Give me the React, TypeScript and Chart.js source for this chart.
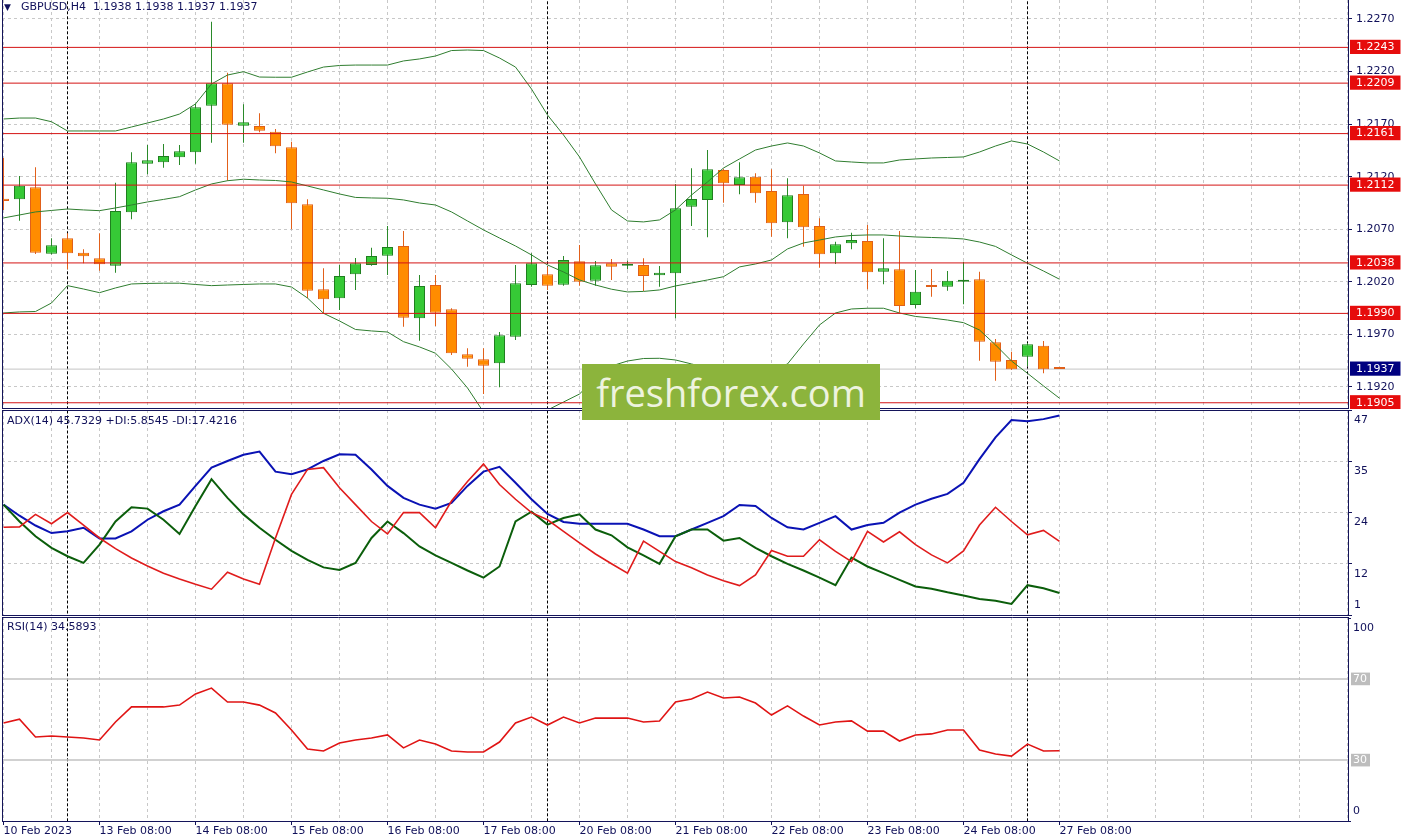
import React, { useEffect, useRef } from 'react';
import { Chart, registerables } from 'chart.js';

Chart.register(...registerables);

const FONT = 'DejaVu Sans';
const TEXT = '#10105a';
const FRAME = '#14145a';
const GRID = '#c8c8c8';

// ---------------- data ----------------
const xTickLabels = [
  '10 Feb 2023', '13 Feb 08:00', '14 Feb 08:00', '15 Feb 08:00', '16 Feb 08:00', '17 Feb 08:00',
  '20 Feb 08:00', '21 Feb 08:00', '22 Feb 08:00', '23 Feb 08:00', '24 Feb 08:00', '27 Feb 08:00',
];

const opens = [
  1.20990, 1.20985, 1.21099, 1.20468, 1.20614, 1.20477, 1.20424, 1.20354, 1.20862, 1.21324,
  1.21337, 1.21385, 1.21432, 1.21875, 1.22088, 1.21685, 1.21682, 1.21628, 1.21480, 1.20938,
  1.20129, 1.20044, 1.20272, 1.20360, 1.20449, 1.20541, 1.19853, 1.20170, 1.19939, 1.19511,
  1.19463, 1.19425, 1.19678, 1.20170, 1.20272, 1.20173, 1.20396, 1.20211, 1.20376, 1.20354,
  1.20360, 1.20262, 1.20281, 1.20915, 1.20979, 1.21264, 1.21121, 1.21200, 1.21064, 1.20766,
  1.21036, 1.20731, 1.20472, 1.20567, 1.20589, 1.20297, 1.20319, 1.19980, 1.20163, 1.20154,
  1.20201, 1.20224, 1.19625, 1.19457, 1.19488, 1.19593, 1.19380,
];
const highs = [
  1.21378, 1.21207, 1.21290, 1.20614, 1.20662, 1.20510, 1.20662, 1.21143, 1.21432, 1.21502,
  1.21511, 1.21502, 1.21892, 1.22674, 1.22189, 1.21889, 1.21803, 1.21654, 1.21533, 1.20985,
  1.20329, 1.20360, 1.20427, 1.20525, 1.20731, 1.20684, 1.20265, 1.20265, 1.19948, 1.19568,
  1.19568, 1.19723, 1.20360, 1.20472, 1.20344, 1.20446, 1.20551, 1.20398, 1.20417, 1.20401,
  1.20424, 1.20351, 1.21131, 1.21280, 1.21454, 1.21273, 1.21337, 1.21232, 1.21270, 1.21185,
  1.21115, 1.20804, 1.20582, 1.20667, 1.20741, 1.20614, 1.20684, 1.20313, 1.20322, 1.20303,
  1.20392, 1.20297, 1.19657, 1.19536, 1.19618, 1.19638, 1.19380,
];
const lows = [
  1.20883, 1.20782, 1.20465, 1.20460, 1.20319, 1.20376, 1.20306, 1.20287, 1.20795, 1.21223,
  1.21286, 1.21311, 1.21324, 1.21523, 1.21162, 1.21523, 1.21622, 1.21423, 1.20700, 1.20044,
  1.19901, 1.19932, 1.20123, 1.20354, 1.20265, 1.19774, 1.19640, 1.19780, 1.19504, 1.19393,
  1.19133, 1.19197, 1.19647, 1.20154, 1.20123, 1.20163, 1.20163, 1.20163, 1.20218, 1.20319,
  1.20113, 1.20154, 1.19853, 1.20731, 1.20624, 1.20953, 1.21033, 1.20953, 1.20629, 1.20614,
  1.20534, 1.20335, 1.20370, 1.20510, 1.20129, 1.20177, 1.19907, 1.19948, 1.20059, 1.20116,
  1.19987, 1.19450, 1.19260, 1.19362, 1.19400, 1.19330, 1.19370,
];
const closes = [
  1.20970, 1.21115, 1.20477, 1.20548, 1.20472, 1.20443, 1.20367, 1.20874, 1.21337, 1.21356,
  1.21397, 1.21442, 1.21860, 1.22088, 1.21695, 1.21718, 1.21638, 1.21489, 1.20947, 1.20116,
  1.20034, 1.20256, 1.20376, 1.20446, 1.20532, 1.19859, 1.20161, 1.19907, 1.19520, 1.19469,
  1.19403, 1.19692, 1.20186, 1.20376, 1.20163, 1.20408, 1.20201, 1.20357, 1.20344, 1.20370,
  1.20256, 1.20287, 1.20900, 1.20988, 1.21270, 1.21137, 1.21194, 1.21042, 1.20757, 1.21023,
  1.20719, 1.20462, 1.20557, 1.20598, 1.20291, 1.20329, 1.19970, 1.20106, 1.20151, 1.20211,
  1.20215, 1.19631, 1.19441, 1.19368, 1.19606, 1.19368, 1.19370,
];

const bbUpper = [
  1.21749, 1.21758, 1.21758, 1.21723, 1.21635, 1.21635, 1.21635, 1.21635, 1.21673, 1.21711,
  1.21749, 1.21796, 1.21892, 1.22082, 1.22167, 1.22199, 1.22148, 1.22146, 1.22146, 1.22196,
  1.22243, 1.22258, 1.22262, 1.22262, 1.22262, 1.22301, 1.22320, 1.22348, 1.22400, 1.22405,
  1.22400, 1.22329, 1.22243, 1.22034, 1.21787, 1.21597, 1.21388, 1.21131, 1.20884, 1.20779,
  1.20770, 1.20789, 1.20884, 1.21026, 1.21150, 1.21283, 1.21369, 1.21454, 1.21492, 1.21521,
  1.21492, 1.21426, 1.21350, 1.21340, 1.21331, 1.21331, 1.21359, 1.21369, 1.21378, 1.21383,
  1.21388, 1.21435, 1.21492, 1.21540, 1.21511, 1.21435, 1.21350,
];
const bbMiddle = [
  1.20808, 1.20836, 1.20865, 1.20879, 1.20893, 1.20884, 1.20877, 1.20903, 1.20931, 1.20960,
  1.20984, 1.21010, 1.21074, 1.21131, 1.21162, 1.21176, 1.21169, 1.21164, 1.21150, 1.21112,
  1.21074, 1.21036, 1.21003, 1.20998, 1.20995, 1.20979, 1.20950, 1.20931, 1.20865, 1.20779,
  1.20694, 1.20617, 1.20541, 1.20456, 1.20361, 1.20294, 1.20218, 1.20170, 1.20130, 1.20104,
  1.20109, 1.20123, 1.20161, 1.20189, 1.20218, 1.20249, 1.20342, 1.20370, 1.20408, 1.20513,
  1.20570, 1.20598, 1.20627, 1.20641, 1.20646, 1.20646, 1.20636, 1.20627, 1.20622, 1.20617,
  1.20608, 1.20579, 1.20537, 1.20456, 1.20377, 1.20303, 1.20225,
];
const bbLower = [
  1.19904, 1.19914, 1.19918, 1.19999, 1.20164, 1.20132, 1.20097, 1.20142, 1.20180, 1.20185,
  1.20187, 1.20187, 1.20175, 1.20164, 1.20170, 1.20175, 1.20180, 1.20180, 1.20151, 1.20046,
  1.19901, 1.19828, 1.19747, 1.19733, 1.19723, 1.19631, 1.19581, 1.19521, 1.19371, 1.19191,
  1.18962, 1.18886, 1.18848, 1.18905, 1.18981, 1.19057, 1.19133, 1.19285, 1.19400, 1.19447,
  1.19471, 1.19473, 1.19457, 1.19419, 1.19381, 1.19352, 1.19333, 1.19343, 1.19362, 1.19419,
  1.19609, 1.19790, 1.19904, 1.19942, 1.19949, 1.19949, 1.19904, 1.19871, 1.19856, 1.19837,
  1.19812, 1.19742, 1.19600, 1.19447, 1.19330, 1.19210, 1.19093,
];

const levels = [1.2243, 1.2209, 1.2161, 1.2112, 1.2038, 1.1990, 1.1905];
const lastPrice = 1.1937;
const priceTicks = [1.2270, 1.2220, 1.2170, 1.2120, 1.2070, 1.2020, 1.1970, 1.1920];

const adx = [
  25.7, 23.2, 21.0, 19.3, 19.7, 20.5, 18.1, 18.1, 19.7, 22.3,
  24.2, 25.7, 29.9, 34.0, 35.5, 36.9, 37.6, 33.1, 32.5, 33.6,
  35.5, 37.0, 36.9, 33.6, 29.9, 27.2, 25.7, 24.8, 26.1, 29.9,
  33.1, 34.2, 30.6, 26.9, 23.6, 21.8, 21.4, 21.4, 21.4, 21.4,
  20.1, 18.6, 18.6, 20.1, 21.6, 23.1, 25.6, 25.4, 22.7, 20.6,
  20.1, 21.6, 23.1, 20.1, 21.1, 21.6, 23.9, 25.7, 27.0, 28.1,
  30.6, 35.9, 40.8, 44.7, 44.4, 44.9, 45.73,
];
const plusDI = [
  25.7, 21.9, 18.6, 16.0, 14.1, 12.6, 16.7, 21.9, 25.1, 24.8,
  22.3, 19.1, 25.4, 31.4, 27.2, 23.5, 20.5, 17.8, 15.3, 13.3,
  11.6, 11.0, 12.6, 18.2, 21.9, 19.3, 16.3, 14.3, 12.6, 10.9,
  9.3, 11.8, 21.9, 24.1, 21.2, 22.7, 23.5, 20.1, 18.8, 16.1,
  14.3, 12.4, 18.6, 20.1, 20.1, 17.6, 18.2, 16.0, 14.1, 12.4,
  10.9, 9.3, 7.6, 13.8, 11.8, 10.3, 8.8, 7.3, 6.8, 6.0,
  5.3, 4.5, 4.1, 3.4, 7.6, 6.9, 5.85,
];
const minusDI = [
  20.6, 20.7, 23.5, 21.4, 23.9, 21.1, 18.2, 15.8, 13.7, 11.9,
  10.3, 9.0, 7.8, 6.7, 10.5, 9.0, 7.8, 18.2, 28.0, 33.6,
  34.0, 29.5, 25.7, 21.9, 19.1, 23.9, 23.9, 20.5, 26.5, 30.9,
  34.8, 30.2, 26.9, 23.9, 22.3, 19.7, 17.1, 14.6, 12.4, 10.3,
  17.5, 15.2, 12.9, 11.5, 9.9, 8.6, 7.5, 9.9, 15.4, 14.1,
  14.1, 17.8, 15.2, 12.9, 19.7, 17.3, 19.6, 16.7, 14.4, 12.6,
  15.3, 21.1, 25.1, 21.9, 18.9, 19.9, 17.42,
];
const adxTickValues = [46.95, 35.4375, 23.925, 12.4125, 0.9];
const adxTickLabels = ['47', '35', '24', '12', '1'];

const rsi = [
  48.3, 50.2, 41.4, 41.9, 41.4, 40.9, 39.9, 48.8, 56.2, 56.2,
  56.2, 57.1, 62.6, 65.5, 58.6, 58.6, 57.1, 53.2, 44.8, 35.5,
  34.5, 38.4, 39.9, 40.9, 42.4, 36.0, 39.9, 37.9, 34.5, 34.0,
  34.0, 38.9, 48.3, 51.2, 47.3, 51.2, 48.3, 50.7, 50.7, 50.7,
  48.8, 49.3, 58.6, 60.1, 63.5, 60.6, 61.1, 58.1, 52.2, 56.7,
  51.7, 47.3, 48.8, 49.3, 44.3, 44.3, 39.4, 42.4, 42.9, 44.8,
  44.8, 35.0, 33.0, 32.0, 37.9, 34.5, 34.59,
];
const rsiLevels = [70, 30];
const rsiTickValues = [100, 70, 30, 0];
const rsiTickLabels = ['100', '70', '30', '0'];

const separatorBars = [4, 34, 64];

// ---------------- layout constants ----------------
const X_MIN = -0.09375;
const X_MAX = 84.03125;
const PRICE_MIN = 1.190002;
const PRICE_MAX = 1.228807;

const gridBars: number[] = [];
for (let b = 0; b <= 84; b += 3) gridBars.push(b);

const HIDDEN = 'rgba(0,0,0,0)';

function xScale(withLabels: boolean): any {
  return {
    type: 'linear',
    min: X_MIN,
    max: X_MAX,
    bounds: 'data',
    offset: false,
    grid: {
      color: GRID,
      lineWidth: 1,
      offset: false,
      drawTicks: withLabels,
      tickLength: 4,
      tickWidth: 1,
      tickColor: (c: any) =>
        c.tick && c.tick.value % 6 === 0 && c.tick.value / 6 < xTickLabels.length ? FRAME : HIDDEN,
    },
    border: { display: false, dash: [3, 3] },
    ticks: {
      display: withLabels,
      autoSkip: false,
      maxRotation: 0,
      minRotation: 0,
      align: 'start',
      padding: 0,
      color: TEXT,
      font: { family: FONT, size: 11 },
      callback: (v: number) => (v % 6 === 0 && v / 6 < xTickLabels.length ? xTickLabels[v / 6] : ''),
    },
    afterBuildTicks: (s: any) => {
      s.ticks = gridBars.map((v) => ({ value: v }));
    },
    afterFit: (s: any) => {
      s.height = withLabels ? 19 : 0;
      s.paddingLeft = 0;
      s.paddingRight = 0;
    },
  };
}

function framePlugin(drawTop: boolean) {
  return {
    id: 'panelFrame',
    afterDraw(chart: any) {
      const { ctx, chartArea } = chart;
      const { left, right, top, bottom } = chartArea;
      ctx.save();
      ctx.strokeStyle = FRAME;
      ctx.lineWidth = 1;
      ctx.setLineDash([]);
      ctx.beginPath();
      ctx.moveTo(left + 0.5, top);
      ctx.lineTo(left + 0.5, bottom + 1);
      ctx.moveTo(left, bottom + 0.5);
      ctx.lineTo(right + 1, bottom + 0.5);
      if (drawTop) {
        ctx.moveTo(left, top + 0.5);
        ctx.lineTo(right + 1, top + 0.5);
      }
      ctx.stroke();
      ctx.restore();
    },
  };
}

function separatorDatasets(lo: number, hi: number, order: number) {
  return separatorBars.map((b) => ({
    type: 'line',
    data: [{ x: b, y: lo }, { x: b, y: hi }],
    borderColor: '#000000',
    borderWidth: 1,
    borderDash: [3, 2],
    pointRadius: 0,
    order,
  }));
}

function hLine(value: number, color: string, width: number, order: number) {
  return {
    type: 'line',
    data: [{ x: X_MIN - 2, y: value }, { x: X_MAX + 2, y: value }],
    borderColor: color,
    borderWidth: width,
    pointRadius: 0,
    order,
  };
}

function series(values: number[]) {
  return values.map((y, i) => ({ x: i, y }));
}

const baseOptions = {
  animation: false,
  responsive: false,
  maintainAspectRatio: false,
  events: [],
  plugins: { legend: { display: false }, tooltip: { enabled: false } },
};

function mainConfig(): any {
  const idx = opens.map((_, i) => i);
  const bull = idx.map((i) => closes[i] >= opens[i]);
  const BB = '#2f7d2f';
  return {
    type: 'line',
    data: {
      datasets: [
        ...levels.map((v) => hLine(v, '#d41414', 1, 1)),
        { type: 'line', data: series(bbUpper), borderColor: BB, borderWidth: 1, pointRadius: 0, order: 2 },
        { type: 'line', data: series(bbMiddle), borderColor: BB, borderWidth: 1, pointRadius: 0, order: 2 },
        { type: 'line', data: series(bbLower), borderColor: BB, borderWidth: 1, pointRadius: 0, order: 2 },
        {
          type: 'bar',
          data: idx.map((i) => ({ x: i, y: [opens[i], closes[i]] })),
          backgroundColor: bull.map((b) => (b ? '#36c936' : '#ff8c00')),
          borderColor: bull.map((b) => (b ? '#1f7f1f' : '#e0601a')),
          borderWidth: 1,
          borderSkipped: false,
          barThickness: 11,
          maxBarThickness: 11,
          grouped: false,
          inflateAmount: 0,
          minBarLength: 2,
          order: 3,
        },
        {
          type: 'bar',
          data: idx.map((i) => ({ x: i, y: [lows[i], highs[i]] })),
          backgroundColor: bull.map((b) => (b ? '#2a8a2a' : '#e2601a')),
          borderWidth: 0,
          borderSkipped: false,
          barThickness: 1,
          maxBarThickness: 1,
          grouped: false,
          inflateAmount: 0,
          order: 4,
        },
        hLine(lastPrice, '#c4c4c4', 1, 5),
        ...separatorDatasets(1.1, 1.3, 6),
      ],
    },
    options: {
      ...baseOptions,
      layout: { padding: { left: 2, right: 0, top: 0, bottom: 1 } },
      scales: {
        x: xScale(false),
        y: {
          type: 'linear',
          position: 'right',
          min: PRICE_MIN,
          max: PRICE_MAX,
          bounds: 'data',
          grid: {
            color: (c: any) => (c.tick && priceTicks.includes(c.tick.value) ? GRID : HIDDEN),
            tickColor: (c: any) => (c.tick && priceTicks.includes(c.tick.value) ? FRAME : HIDDEN),
            tickLength: 4,
            lineWidth: 1,
          },
          border: { display: true, color: FRAME, width: 1, dash: [3, 3] },
          ticks: {
            autoSkip: false,
            padding: 4,
            font: { family: FONT, size: 11 },
            color: (c: any) => (c.tick && priceTicks.includes(c.tick.value) ? TEXT : '#ffffff'),
            showLabelBackdrop: (c: any) => !(c.tick && priceTicks.includes(c.tick.value)),
            backdropColor: (c: any) => (c.tick && c.tick.value === lastPrice ? '#000080' : '#e60c0c'),
            backdropPadding: { left: 6, right: 6, top: 1, bottom: 0 },
            callback: (v: number) => v.toFixed(4),
          },
          afterBuildTicks: (s: any) => {
            s.ticks = [
              ...priceTicks.map((v) => ({ value: v })),
              ...levels.map((v) => ({ value: v })),
              { value: lastPrice },
            ];
          },
          afterFit: (s: any) => {
            s.width = 60;
            s.paddingTop = 0;
            s.paddingBottom = 0;
          },
        },
      },
    },
    plugins: [framePlugin(false)],
  };
}

function adxConfig(): any {
  return {
    type: 'line',
    data: {
      datasets: [
        { type: 'line', data: series(minusDI), borderColor: '#e01c1c', borderWidth: 1.6, pointRadius: 0, order: 1 },
        { type: 'line', data: series(plusDI), borderColor: '#0b5e0b', borderWidth: 2, pointRadius: 0, order: 2 },
        { type: 'line', data: series(adx), borderColor: '#0a12b4', borderWidth: 2, pointRadius: 0, order: 3 },
        ...separatorDatasets(-10, 100, 9),
      ],
    },
    options: {
      ...baseOptions,
      layout: { padding: { left: 2, right: 0, top: 0, bottom: 1 } },
      scales: {
        x: xScale(false),
        y: {
          type: 'linear',
          position: 'right',
          min: adxTickValues[adxTickValues.length - 1],
          max: adxTickValues[0],
          bounds: 'data',
          grid: {
            color: (c: any) =>
              c.index > 0 && c.index < adxTickValues.length - 1 ? GRID : HIDDEN,
            tickColor: FRAME,
            tickLength: 4,
          },
          border: { display: true, color: FRAME, width: 1, dash: [3, 3] },
          ticks: {
            autoSkip: false,
            padding: 2,
            color: TEXT,
            font: { family: FONT, size: 11, lineHeight: 1.8 },
            callback: (_v: number, i: number) =>
              i === adxTickLabels.length - 1 ? [adxTickLabels[i], ''] : ['', adxTickLabels[i]],
          },
          afterBuildTicks: (s: any) => {
            s.ticks = adxTickValues.map((v) => ({ value: v }));
          },
          afterFit: (s: any) => {
            s.width = 60;
            s.paddingTop = 0;
            s.paddingBottom = 0;
          },
        },
      },
    },
    plugins: [framePlugin(true)],
  };
}

function rsiConfig(): any {
  const isLevel = (c: any) => c.tick && rsiLevels.includes(c.tick.value);
  return {
    type: 'line',
    data: {
      datasets: [
        { type: 'line', data: series(rsi), borderColor: '#e01414', borderWidth: 1.6, pointRadius: 0, order: 1 },
        ...rsiLevels.map((v) => hLine(v, '#c2c2c2', 1.5, 5)),
        ...separatorDatasets(-10, 110, 9),
      ],
    },
    options: {
      ...baseOptions,
      layout: { padding: { left: 2, right: 0, top: 1, bottom: 0 } },
      scales: {
        x: xScale(true),
        y: {
          type: 'linear',
          position: 'right',
          min: 0,
          max: 100.5,
          bounds: 'data',
          grid: { color: HIDDEN, tickColor: (c: any) => (isLevel(c) ? HIDDEN : FRAME), tickLength: 3 },
          border: { display: true, color: FRAME, width: 1, dash: [3, 3] },
          ticks: {
            autoSkip: false,
            padding: 2,
            color: (c: any) => (isLevel(c) ? '#ffffff' : TEXT),
            font: (c: any) => ({ family: FONT, size: 11, lineHeight: isLevel(c) ? 1.15 : 1.8 }),
            showLabelBackdrop: (c: any) => isLevel(c),
            backdropColor: '#bdbdbd',
            backdropPadding: { left: 2, right: 3, top: 0, bottom: 0 },
            callback: (_v: number, i: number) => {
              const lbl = rsiTickLabels[i];
              if (i === 0) return ['', lbl];
              if (i === rsiTickLabels.length - 1) return [lbl, ''];
              return lbl;
            },
          },
          afterBuildTicks: (s: any) => {
            s.ticks = rsiTickValues.map((v) => ({ value: v }));
          },
          afterFit: (s: any) => {
            s.width = 60;
            s.paddingTop = 0;
            s.paddingBottom = 0;
          },
        },
      },
    },
    plugins: [framePlugin(true)],
  };
}

function ChartCanvas({ top, height, makeConfig }: { top: number; height: number; makeConfig: () => any }) {
  const ref = useRef<HTMLCanvasElement | null>(null);
  useEffect(() => {
    if (!ref.current) return;
    const chart = new Chart(ref.current, makeConfig());
    return () => chart.destroy();
  }, []);
  return (
    <canvas
      ref={ref}
      width={1408}
      height={height}
      style={{ position: 'absolute', left: 0, top, width: 1408, height, display: 'block' }}
    />
  );
}

const labelStyle: React.CSSProperties = {
  position: 'absolute',
  fontFamily: FONT,
  fontSize: 11,
  lineHeight: '13px',
  color: TEXT,
  whiteSpace: 'pre',
};

export default function App() {
  Chart.defaults.font.family = FONT;
  return (
    <div
      style={{
        position: 'fixed',
        left: 0,
        top: 0,
        width: 1408,
        height: 840,
        background: '#ffffff',
        overflow: 'hidden',
      }}
    >
      <ChartCanvas top={0} height={409} makeConfig={mainConfig} />
      <ChartCanvas top={410} height={206} makeConfig={adxConfig} />
      <ChartCanvas top={616} height={224} makeConfig={rsiConfig} />

      <div style={{ ...labelStyle, left: 4, top: 1, fontSize: 9 }}>▼</div>
      <div style={{ ...labelStyle, left: 21, top: 0 }}>{'GBPUSD,H4  1.1938 1.1938 1.1937 1.1937'}</div>
      <div style={{ ...labelStyle, left: 7, top: 414 }}>{'ADX(14) 45.7329 +DI:5.8545 -DI:17.4216'}</div>
      <div style={{ ...labelStyle, left: 7, top: 620 }}>{'RSI(14) 34.5893'}</div>

      <div
        style={{
          position: 'absolute',
          left: 582,
          top: 364,
          width: 298,
          height: 56,
          background: '#8cb43c',
          color: '#eef3df',
          fontFamily: '"Open Sans", sans-serif',
          fontSize: 38,
          lineHeight: '56px',
          textAlign: 'center',
        }}
      >
        freshforex.com
      </div>
    </div>
  );
}
